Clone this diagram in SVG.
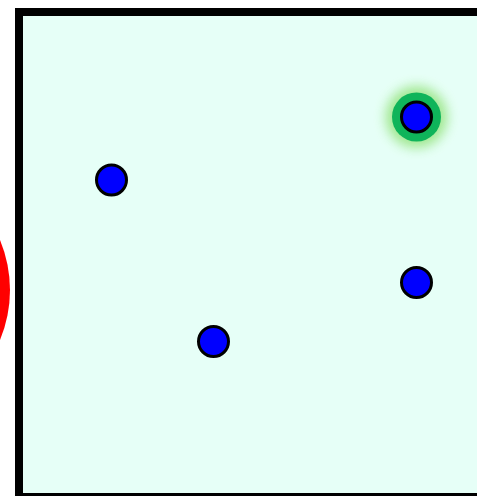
<svg xmlns="http://www.w3.org/2000/svg" width="477" height="496" viewBox="0 0 477 496">
<defs>
<style>
.dot{fill:#0000ff;stroke:#000;stroke-width:3}
</style>
<filter id="glow" x="-1" y="-1" width="3" height="3"><feGaussianBlur stdDeviation="6"/></filter>
</defs>
<rect width="477" height="496" fill="#ffffff"/>
<circle cx="-120" cy="290" r="130" fill="#ff0000"/>
<rect x="19" y="12" width="470" height="485" fill="#e6fff7" stroke="#000" stroke-width="8"/>
<g id="node-highlight">
<circle cx="416.5" cy="117" r="31" fill="#9ae585" opacity="0.9" filter="url(#glow)"/>
<circle cx="416.5" cy="117" r="24.5" fill="#0fb45a"/>
<circle class="dot" cx="416.5" cy="117" r="15"/>
</g>
<g id="node-a"><circle class="dot" cx="111.5" cy="180" r="15"/></g>
<g id="node-b"><circle class="dot" cx="213.5" cy="341.5" r="15"/></g>
<g id="node-c"><circle class="dot" cx="416.5" cy="282.5" r="15"/></g>
<g id="connectors"></g>
</svg>
